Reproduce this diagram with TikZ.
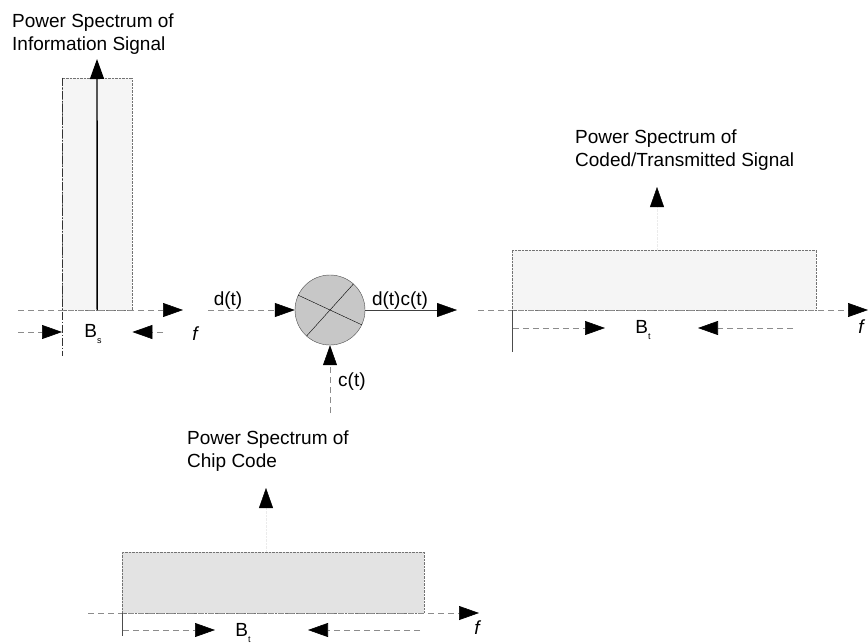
\documentclass[tikz,border=0pt]{standalone}
\usepackage{fontspec}
\setmainfont{Liberation Sans}
\usetikzlibrary{arrows.meta,positioning,calc}

\newcommand{\bandw}[1]{B\raisebox{-6pt}{\fontsize{9}{9}\selectfont #1}}

\begin{document}
\begin{tikzpicture}[x=1pt, y=-1pt,
  txt/.style={font=\fontsize{19}{23}\selectfont, inner sep=0pt},
  title/.style={txt, align=left, anchor=north west},
  band/.style={draw=black!55, densely dotted, inner sep=0pt, anchor=south west},
  guide/.style={draw=black!45, line width=0.6pt, dash pattern=on 6pt off 4pt},
  arr/.style={-{Triangle[length=20pt, width=14pt, color=black]}}
]
\useasboundingbox (0,0) rectangle (868,643);

% information signal
\node[title] (infotitle) at (12,14) {Power Spectrum of\\Information Signal};
\node[band, fill=black!4, minimum width=70pt, minimum height=232pt] (infoband) at (62,310) {};
\coordinate (infotip) at (97,59);
\draw[line width=1.4pt, arr] (infoband.south) -- (infotip);
\coordinate (infoaxL) at (18,310);
\coordinate (infoaxR) at (183,310);
\draw[guide, arr] (infoaxL) -- (infoaxR);
\coordinate (bsL) at (18,332);
\coordinate (bsR) at (163,332);
\coordinate (bsext) at (62,356);
\draw[black!80, dash pattern=on 8pt off 2pt on 1pt off 2pt] (infoband.north west) -- (bsext);
\draw[guide, arr] (bsL) -- (infoband.south west |- bsL);
\draw[guide, arr] (bsR) -- (infoband.south east |- bsR);
\node[txt] (bs) at (93,334) {\bandw{s}};
\node[txt] (finfo) at (195,334) {\itshape f};

% multiplier
\node[circle, draw=black!70, fill=black!22, minimum size=70pt, inner sep=0pt] (mult) at (330,310) {};
\draw (mult.155) -- (mult.-25);
\draw (mult.48) -- (mult.228);
\coordinate (din) at (208,310);
\coordinate (dcout) at (457,310);
\coordinate (cin) at (330,413);
\draw[guide, arr] (din) -- (mult);
\draw[black!75, arr] (mult) -- (dcout);
\draw[guide, arr] (cin) -- (mult);
\node[txt, anchor=base] (dlab) at (228,305) {d(t)};
\node[txt, anchor=base] (dclab) at (400,305) {d(t)c(t)};
\node[txt, anchor=base west] (clab) at (338,386) {c(t)};

% coded / transmitted signal
\node[title] (txtitle) at (575,130) {Power Spectrum of\\Coded/Transmitted Signal};
\node[band, fill=black!4, minimum width=304pt, minimum height=60pt] (txband) at (512,310) {};
\coordinate (txtip) at (657,187);
\draw[black!8, densely dotted, arr] (txband.north -| txtip) -- (txtip);
\coordinate (txaxL) at (478,310);
\coordinate (txaxR) at (868,310);
\draw[guide, arr] (txaxL) -- (txaxR);
\node[txt] (ftx) at (861,327) {\itshape f};
\coordinate (txext) at (512,352);
\draw[black!70] (txband.south west) -- (txext);
\coordinate (btLs) at (513,328);
\coordinate (btLe) at (605,328);
\coordinate (btRs) at (793,328);
\coordinate (btRe) at (698,328);
\draw[guide, arr] (btLs) -- (btLe);
\draw[guide, arr] (btRs) -- (btRe);
\node[txt] (bt) at (643,330) {\bandw{t}};

% chip code
\node[title] (chiptitle) at (187,431) {Power Spectrum of\\Chip Code};
\node[band, fill=black!11, minimum width=302pt, minimum height=61pt] (chipband) at (122,613) {};
\coordinate (chiptip) at (266,488);
\draw[black!8, densely dotted, arr] (chipband.north -| chiptip) -- (chiptip);
\coordinate (chipaxL) at (88,613);
\coordinate (chipaxR) at (479,613);
\draw[guide, arr] (chipaxL) -- (chipaxR);
\node[txt] (fchip) at (477,628) {\itshape f};
\coordinate (chipext) at (122,636);
\draw[black!70] (chipband.south west) -- (chipext);
\coordinate (bcLs) at (123,630);
\coordinate (bcLe) at (215,630);
\coordinate (bcRs) at (420,630);
\coordinate (bcRe) at (308,630);
\draw[guide, arr] (bcLs) -- (bcLe);
\draw[guide, arr] (bcRs) -- (bcRe);
\node[txt] (bc) at (243,633) {\bandw{t}};
\end{tikzpicture}
\end{document}
